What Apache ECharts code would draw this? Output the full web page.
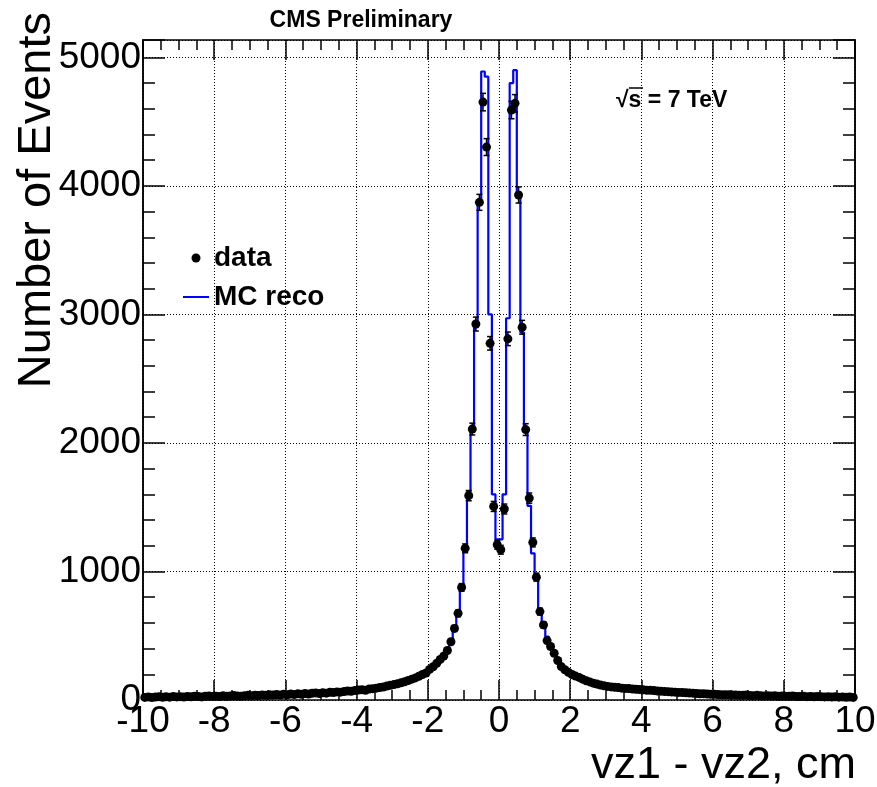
<!DOCTYPE html>
<html><head><meta charset="utf-8">
<script src="https://cdn.jsdelivr.net/npm/echarts@6/dist/echarts.min.js"></script>
<style>html,body{margin:0;padding:0;background:#fff}#c{width:877px;height:787px}</style>
</head><body><div id="c"></div>
<script>
// Histogram binning (200 bins of 0.1 cm from -10 to 10)
const binMin = -10, binMax = 10, binWidth = 0.1;
const yMin = 0, yMax = 5135;

// data counts per bin, left to right
const dataCounts = [
  20, 24, 19, 23, 26, 21, 25, 22, 27, 24,
  26, 23, 28, 25, 30, 27, 24, 29, 31, 28,
  30, 27, 33, 29, 31, 35, 32, 30, 34, 36,
  33, 37, 35, 39, 36, 40, 38, 42, 39, 44,
  41, 46, 43, 48, 45, 50, 47, 52, 55, 51,
  56, 53, 60, 58, 63, 61, 66, 70, 68, 74,
  77, 80, 76, 85, 88, 92, 97, 101, 108, 115,
  120, 126, 134, 142, 152, 162, 172, 185, 198, 210,
  238, 259, 285, 316, 342, 385, 453, 557, 674, 876,
  1180, 1590, 2108, 2925, 3872, 4652, 4302, 2775, 1506, 1208,
  1169, 1486, 2810, 4590, 4642, 3929, 2900, 2104, 1571, 1226,
  956, 688, 584, 462, 416, 364, 307, 260, 235, 215,
  198, 186, 176, 162, 150, 141, 131, 124, 116, 110,
  106, 102, 99, 97, 92, 90, 89, 86, 84, 82,
  80, 76, 75, 73, 70, 69, 66, 65, 62, 61,
  59, 58, 56, 54, 53, 50, 49, 48, 46, 45,
  44, 43, 41, 40, 41, 38, 39, 37, 36, 38,
  35, 34, 36, 33, 32, 34, 31, 33, 30, 31,
  30, 29, 31, 28, 27, 29, 26, 28, 25, 27,
  26, 24, 25, 23, 25, 22, 24, 21, 23, 20
];

// MC reco counts per bin, left to right
const mcCounts = [
  22, 21, 23, 24, 22, 24, 25, 23, 25, 26,
  25, 26, 27, 26, 28, 27, 28, 29, 28, 30,
  30, 31, 30, 32, 32, 33, 32, 34, 34, 35,
  35, 36, 37, 38, 38, 39, 40, 41, 42, 43,
  44, 45, 46, 47, 48, 49, 51, 52, 53, 55,
  56, 58, 59, 61, 63, 64, 67, 69, 72, 74,
  77, 80, 83, 86, 90, 94, 98, 103, 108, 114,
  119, 125, 132, 139, 147, 156, 166, 177, 190, 205,
  232, 255, 278, 300, 325, 376, 441, 558, 674, 881,
  1193, 1620, 2100, 2900, 3890, 4890, 4850, 3000, 1600, 1250,
  1250, 1600, 2970, 4800, 4900, 3920, 2860, 2100, 1511, 1141,
  934, 674, 583, 493, 415, 352, 300, 262, 235, 212,
  195, 182, 170, 158, 148, 139, 130, 122, 115, 109,
  104, 100, 96, 93, 90, 87, 85, 82, 80, 78,
  76, 74, 72, 70, 68, 66, 65, 63, 61, 60,
  58, 57, 55, 54, 52, 51, 50, 48, 47, 46,
  45, 44, 43, 42, 41, 40, 39, 38, 37, 36,
  36, 35, 34, 33, 33, 32, 31, 31, 30, 29,
  29, 28, 28, 27, 27, 26, 26, 25, 25, 24,
  24, 23, 23, 23, 22, 22, 21, 21, 21, 20
];

const seriesNames = ['data', 'MC reco'];
const xTitle = 'vz1 - vz2, cm';
const yTitle = 'Number of Events';
const topLabel = 'CMS Preliminary';
const energyLabel = '\u221As = 7 TeV';
const xTickStep = 2;
const yTickStep = 1000;

const FONT = '"Liberation Sans", Arial, Helvetica, sans-serif';

const dataPts = dataCounts.map((v, i) => [binMin + binWidth * (i + 0.5), v]);
const errPts = dataCounts.map((v, i) => [binMin + binWidth * (i + 0.5), v, Math.sqrt(v)]);
const mcPts = mcCounts.map((v, i) => [binMin + binWidth * i, v]);
mcPts.push([binMax, mcCounts[mcCounts.length - 1]]);

const axisLineStyle = { color: '#000', width: 1.5 };
const dotted = { color: '#000', width: 1, type: [1, 2] };

function xAx(pos, labels) {
  return {
    type: 'value', position: pos, min: binMin, max: binMax, interval: xTickStep,
    axisLine: { show: true, onZero: false, lineStyle: axisLineStyle },
    axisTick: { show: true, inside: true, length: 20, lineStyle: axisLineStyle },
    minorTick: { show: true, splitNumber: 4, length: 10, lineStyle: axisLineStyle },
    splitLine: { show: labels, lineStyle: dotted },
    minorSplitLine: { show: false },
    axisLabel: labels ? { show: true, fontSize: 37, fontFamily: FONT, color: '#000', margin: 3 } : { show: false }
  };
}
function yAx(pos, interval, tickLen, labels, split) {
  return {
    type: 'value', position: pos, min: yMin, max: yMax, interval: interval,
    axisLine: { show: true, onZero: false, lineStyle: axisLineStyle },
    axisTick: { show: true, inside: true, length: tickLen, lineStyle: axisLineStyle },
    minorTick: { show: false },
    splitLine: { show: split, lineStyle: dotted },
    axisLabel: labels ? {
      show: true, fontSize: 37, fontFamily: FONT, color: '#000', margin: 2,
      formatter: v => (v % yTickStep === 0 ? String(v) : '')
    } : { show: false }
  };
}

const chart = echarts.init(document.getElementById('c'), null, { renderer: 'canvas' });
chart.setOption({
  animation: false,
  backgroundColor: '#fff',
  grid: { left: 143, right: 22, top: 40, bottom: 87, containLabel: false, outerBoundsMode: 'none' },
  xAxis: [xAx('bottom', true), xAx('top', false)],
  yAxis: [
    yAx('left', 200, 12, true, false),
    yAx('left', yTickStep, 22, false, true),
    yAx('right', 200, 12, false, false),
    yAx('right', yTickStep, 22, false, false)
  ],
  legend: {
    orient: 'vertical', left: 182, top: 244, itemGap: 11, padding: 0,
    itemWidth: 26, itemHeight: 9,
    textStyle: { fontFamily: FONT, fontWeight: 'bold', fontSize: 28, color: '#000' },
    data: [
      { name: seriesNames[0], icon: 'circle', itemStyle: { color: '#000', opacity: 1 } },
      { name: seriesNames[1], itemStyle: { opacity: 0 }, lineStyle: { color: '#0000ff', width: 2 } }
    ]
  },
  series: [
    {
      name: seriesNames[1], type: 'line', data: mcPts, step: 'end',
      symbol: 'none', showSymbol: false, z: 2,
      lineStyle: { color: '#0000ff', width: 2.2 }, itemStyle: { color: '#0000ff' }
    },
    {
      name: 'err', type: 'custom', data: errPts, z: 3,
      encode: { x: 0, y: 1 },
      renderItem: function (params, api) {
        const x = api.value(0), y = api.value(1), e = api.value(2);
        const t = api.coord([x, y + e]);
        const b = api.coord([x, y - e]);
        const st = { stroke: '#000', lineWidth: 1.5 };
        return {
          type: 'group', children: [
            { type: 'line', shape: { x1: t[0], y1: t[1], x2: b[0], y2: b[1] }, style: st },
            { type: 'line', shape: { x1: t[0] - 3, y1: t[1], x2: t[0] + 3, y2: t[1] }, style: st },
            { type: 'line', shape: { x1: b[0] - 3, y1: b[1], x2: b[0] + 3, y2: b[1] }, style: st }
          ]
        };
      }
    },
    {
      name: seriesNames[0], type: 'scatter', data: dataPts, z: 4,
      symbol: 'circle', symbolSize: 9, itemStyle: { color: '#000', opacity: 1 }
    }
  ],
  graphic: [
    { type: 'text', x: 361, y: 21, style: { text: topLabel, font: 'bold 23px ' + FONT, fill: '#000', textAlign: 'center', textVerticalAlign: 'middle' } },
    { type: 'text', x: 616, y: 101, style: { text: energyLabel, font: 'bold 23px ' + FONT, fill: '#000', textAlign: 'left', textVerticalAlign: 'middle' } },
    { type: 'line', shape: { x1: 629, y1: 88, x2: 643, y2: 88 }, style: { stroke: '#000', lineWidth: 1.5 } },
    { type: 'text', x: 37, y: 12, rotation: Math.PI / 2, style: { text: yTitle, font: '47px ' + FONT, fill: '#000', textAlign: 'right', textVerticalAlign: 'middle' } },
    { type: 'text', x: 856, y: 766, style: { text: xTitle, font: '45px ' + FONT, fill: '#000', textAlign: 'right', textVerticalAlign: 'middle' } }
  ]
});
</script></body></html>
